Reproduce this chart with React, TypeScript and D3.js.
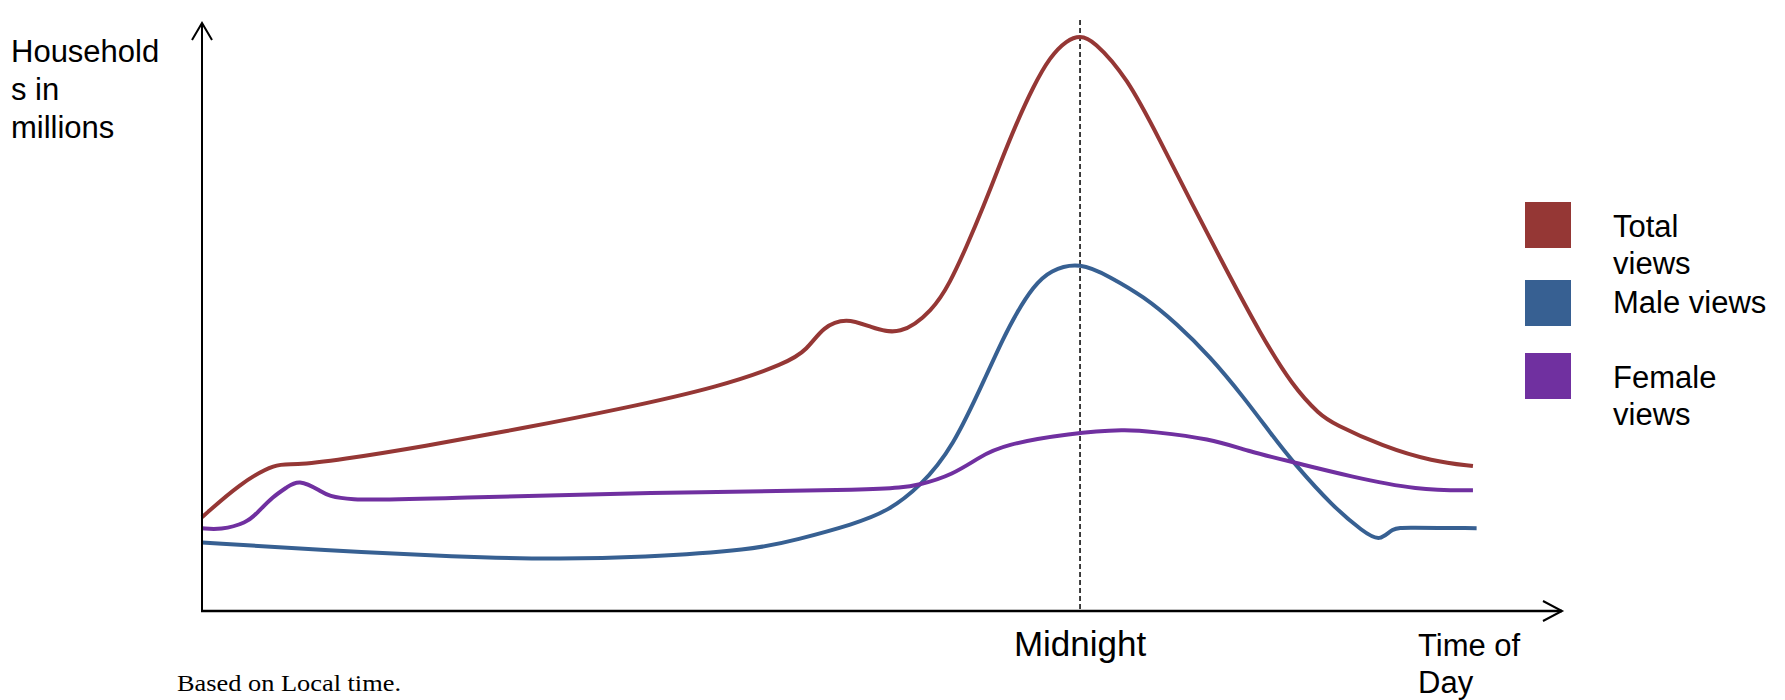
import React from "react";
import * as d3 from "d3";

// Time of day in hours (24 = midnight), values in millions of households (relative units)
const totalHours = [12.0, 12.52, 13.02, 13.24, 13.89, 15.02, 16.39, 17.71, 19.08, 19.99, 20.27, 20.49, 20.81, 21.13, 21.54, 21.99, 22.22, 22.45, 22.68, 22.91, 23.13, 23.36, 23.59, 23.82, 24.0, 24.18, 24.64, 25.09, 25.55, 26.0, 26.46, 26.91, 27.28, 27.46, 28.14, 28.82, 29.37];
const totalViews = [1.63, 2.22, 2.58, 2.53, 2.63, 2.86, 3.18, 3.51, 3.9, 4.31, 4.54, 4.95, 5.1, 4.94, 4.78, 5.23, 5.7, 6.34, 7.03, 7.79, 8.48, 9.12, 9.64, 9.93, 10.01, 9.93, 9.29, 8.19, 7.03, 5.93, 4.83, 3.9, 3.41, 3.26, 2.86, 2.6, 2.52];

const maleHours = [12.0, 13.65, 15.49, 16.85, 17.99, 19.53, 20.13, 20.91, 21.38, 21.81, 22.26, 22.73, 22.95, 23.13, 23.36, 23.59, 24.0, 24.41, 24.87, 25.32, 25.78, 26.23, 26.64, 26.91, 27.46, 27.87, 28.1, 28.27, 28.45, 29.42];
const maleViews = [1.19, 1.06, 0.94, 0.9, 0.93, 1.06, 1.24, 1.51, 1.74, 2.16, 2.83, 4.13, 4.74, 5.18, 5.64, 5.93, 6.07, 5.81, 5.47, 5.0, 4.42, 3.73, 3.03, 2.59, 1.81, 1.38, 1.2, 1.45, 1.45, 1.44];

const femaleHours = [12.0, 12.25, 12.61, 12.75, 12.97, 13.16, 13.32, 13.61, 13.84, 15.49, 17.99, 21.36, 21.81, 22.26, 22.63, 22.95, 23.86, 24.64, 24.96, 25.78, 26.32, 26.91, 27.69, 28.61, 29.37];
const femaleViews = [1.44, 1.41, 1.53, 1.7, 1.99, 2.15, 2.29, 2.1, 1.9, 1.97, 2.06, 2.1, 2.19, 2.37, 2.68, 2.89, 3.09, 3.16, 3.12, 3.0, 2.77, 2.59, 2.34, 2.1, 2.1];

const seriesNames = ["Total views", "Male views", "Female views"];
const seriesColors = ["#953735", "#376092", "#7030A0"];
const legendLines = [["Total", "views"], ["Male views"], ["Female", "views"]];
const yLabelLines = ["Household", "s in", "millions"];
const midnightHour = 24;

export default function App() {
  const width = 1785;
  const height = 700;
  const x0 = 202;
  const y0 = 611;
  const xScale = d3.scaleLinear().domain([12, 30.587]).range([x0, 1562]);
  const yScale = d3.scaleLinear().domain([0, 10]).range([y0, 36]);

  const line = d3
    .line<[number, number]>()
    .x((d) => xScale(d[0]))
    .y((d) => yScale(d[1]))
    .curve(d3.curveBasis);

  const series = [
    { hours: totalHours, values: totalViews },
    { hours: maleHours, values: maleViews },
    { hours: femaleHours, values: femaleViews },
  ];

  const font = "'Liberation Sans', Arial, sans-serif";
  const xEnd = xScale.range()[1];
  const yTop = 23;
  const mx = xScale(midnightHour);
  const legendY = [202, 280, 353];

  return (
    <div style={{ position: "absolute", left: 0, top: 0 }}>
      <svg width={width} height={height} style={{ display: "block", background: "#fff" }}>
        {/* midnight reference */}
        <line x1={mx} x2={mx} y1={20} y2={y0} stroke="#000" strokeWidth={1.5} strokeDasharray="5,3" />

        {series.map((s, i) => (
          <path
            key={seriesNames[i]}
            d={line(s.hours.map((h, j) => [h, s.values[j]] as [number, number])) || ""}
            fill="none"
            stroke={seriesColors[i]}
            strokeWidth={4}
            strokeLinejoin="round"
          />
        ))}

        {/* axes */}
        <line x1={x0} x2={x0} y1={y0 + 1} y2={yTop} stroke="#000" strokeWidth={2} />
        <polyline points={`${x0 - 10},${yTop + 17} ${x0},${yTop} ${x0 + 10},${yTop + 17}`} fill="none" stroke="#000" strokeWidth={2} />
        <line x1={x0 - 1} x2={xEnd} y1={y0} y2={y0} stroke="#000" strokeWidth={2.5} />
        <polyline points={`${xEnd - 19},${y0 - 10} ${xEnd},${y0} ${xEnd - 19},${y0 + 10}`} fill="none" stroke="#000" strokeWidth={2} />

        {/* y label */}
        {yLabelLines.map((t, i) => (
          <text key={t} x={11} y={62 + i * 38} fontFamily={font} fontSize={31} fill="#000">
            {t}
          </text>
        ))}

        {/* x labels */}
        <text x={mx} y={656} textAnchor="middle" fontFamily={font} fontSize={35} fill="#000">
          Midnight
        </text>
        <text x={1418} y={656} fontFamily={font} fontSize={31} fill="#000">
          Time of
        </text>
        <text x={1418} y={693} fontFamily={font} fontSize={31} fill="#000">
          Day
        </text>
        <text
          x={177}
          y={691}
          fontFamily="'Liberation Serif', 'Times New Roman', serif"
          fontSize={23}
          textLength={224}
          lengthAdjust="spacingAndGlyphs"
          fill="#000"
        >
          Based on Local time.
        </text>

        {/* legend */}
        {seriesNames.map((n, i) => (
          <g key={n}>
            <rect x={1525} y={legendY[i]} width={46} height={46} fill={seriesColors[i]} />
            {legendLines[i].map((t, k) => (
              <text
                key={t + k}
                x={1613}
                y={legendLines[i].length === 1 ? legendY[i] + 33 : legendY[i] + 35 + k * 37}
                fontFamily={font}
                fontSize={31}
                fill="#000"
              >
                {t}
              </text>
            ))}
          </g>
        ))}
      </svg>
    </div>
  );
}
